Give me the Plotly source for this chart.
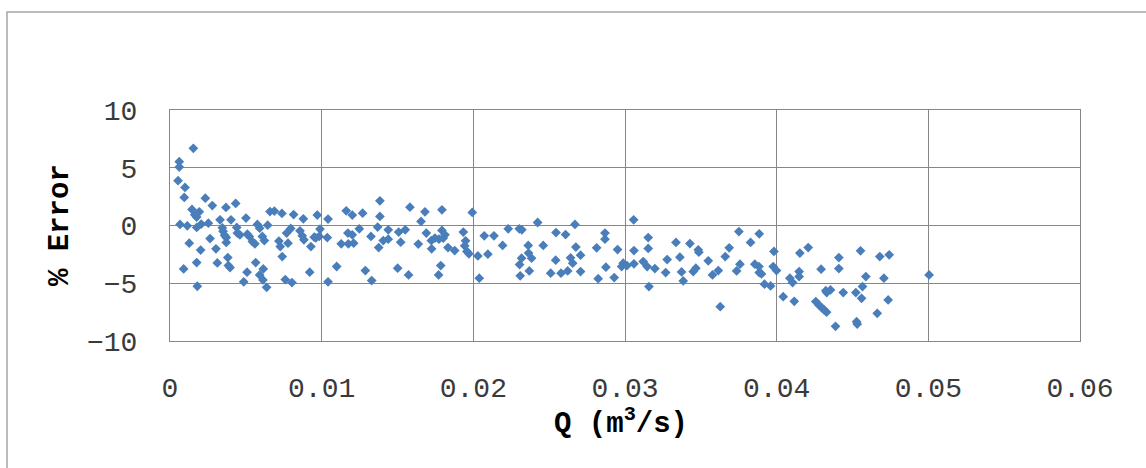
import plotly.graph_objects as go

# Flow rate Q (m^3/s) and percentage error
q = [0.00154, 0.00061, 0.00061, 0.00053, 0.00099, 0.00094, 0.00233, 0.00279, 0.00369, 0.00433,
     0.00145, 0.00193, 0.00163, 0.00176, 0.00066, 0.00114, 0.00176, 0.00206, 0.00253, 0.00330,
     0.00402, 0.00501, 0.00345, 0.00350, 0.00360, 0.00440, 0.00444, 0.00461, 0.00510, 0.00523,
     0.00576, 0.00591, 0.00644, 0.00543, 0.00560, 0.00609, 0.00622, 0.00659, 0.00688, 0.00738,
     0.00815, 0.00879, 0.00971, 0.01042, 0.00264, 0.00371, 0.00371, 0.00127, 0.00202, 0.00303,
     0.00381, 0.00312, 0.00385, 0.00396, 0.00176, 0.00090, 0.00180, 0.00565, 0.00508, 0.00486,
     0.00591, 0.00615, 0.00613, 0.00637, 0.00718, 0.00769, 0.00796, 0.00727, 0.00778, 0.00857,
     0.00872, 0.00883, 0.00951, 0.00929, 0.00989, 0.00962, 0.00984, 0.00740, 0.00921, 0.00760,
     0.00804, 0.01042, 0.01037,
     0.01099, 0.01162, 0.01202, 0.01270, 0.01384, 0.01384, 0.01582, 0.01681, 0.01655, 0.01793,
     0.01993, 0.01173, 0.01202, 0.01211, 0.01176, 0.01129, 0.01248, 0.01325, 0.01369, 0.01376,
     0.01406, 0.01439, 0.01439, 0.01508, 0.01551, 0.01521, 0.01637, 0.01690, 0.01723, 0.01747,
     0.01773, 0.01793, 0.01813, 0.01802, 0.01725, 0.01833, 0.01877, 0.01934, 0.01949, 0.01943,
     0.01958, 0.01971, 0.02072, 0.02030, 0.02096, 0.01288, 0.01330, 0.01501, 0.01573, 0.01785,
     0.01771, 0.02039,
     0.02136, 0.02193, 0.02230, 0.02303, 0.02320, 0.02424, 0.02362, 0.02318, 0.02305, 0.02364,
     0.02384, 0.02369, 0.02309, 0.02461, 0.02545, 0.02608, 0.02670, 0.02676, 0.02707, 0.02543,
     0.02641, 0.02655, 0.02510, 0.02578, 0.02622, 0.02707, 0.02813, 0.02868, 0.02868, 0.02874,
     0.02823, 0.02929, 0.02951, 0.03057, 0.03059, 0.02988, 0.02978, 0.03013, 0.03059, 0.03120,
     0.03146, 0.03153, 0.03153, 0.03158,
     0.03197, 0.03268, 0.03278, 0.03336, 0.03362, 0.03373, 0.03384, 0.03428, 0.03483, 0.03487,
     0.03450, 0.03467, 0.03549, 0.03577, 0.03615, 0.03628, 0.03661, 0.03687, 0.03751, 0.03736,
     0.03758, 0.03828, 0.03885, 0.03856, 0.03883, 0.03885, 0.03900, 0.03920, 0.03960, 0.03982,
     0.03977, 0.03999, 0.04043, 0.04087, 0.04105, 0.04116, 0.04148, 0.04148, 0.04153, 0.04208,
     0.04293, 0.04410, 0.04410, 0.04553, 0.04680, 0.04742, 0.04588, 0.04707, 0.05005, 0.04324,
     0.04355, 0.04330, 0.04439, 0.04522, 0.04566, 0.04560, 0.04735, 0.04258, 0.04278, 0.04296,
     0.04313, 0.04329, 0.04388, 0.04527, 0.04531, 0.04663]

err = [6.68, 5.52, 5.06, 3.88, 3.30, 2.43, 2.37, 1.73, 1.56, 1.91,
       1.39, 1.19, 0.93, 0.73, 0.09, -0.03, -0.17, 0.12, 0.20, 0.49,
       0.49, 0.64, -0.20, -0.50, -0.85, -0.17, -0.66, -0.81, -0.75, -0.95,
       0.09, -0.23, 0.03, -1.39, -1.59, -0.95, -1.30, 1.21, 1.25, 1.04,
       0.95, 0.58, 0.90, 0.56, -1.13, -1.04, -1.47, -1.53, -2.13, -2.02,
       -2.78, -3.24, -3.47, -3.64, -3.21, -3.76, -5.26, -3.21, -4.04, -4.88,
       -4.28, -3.76, -4.71, -5.35, -1.35, -0.66, -0.26, -1.82, -1.53, -0.46,
       -0.89, -1.24, -1.01, -1.82, -0.31, -1.07, -0.95, -2.69, -4.04, -4.68,
       -4.94, -4.88, -1.04,
       -3.55, 1.27, 0.90, 1.07, 2.14, 0.78, 1.59, 1.19, 0.35, 1.36,
       1.13, -0.66, -0.81, -1.53, -1.59, -1.59, -0.29, -0.95, -0.14, -1.91,
       -1.30, -1.18, -0.37, -0.57, -0.37, -1.44, -1.61, -0.66, -1.30, -1.09,
       -1.18, -0.43, -0.81, -1.09, -2.02, -1.91, -2.17, -0.57, -1.33, -1.76,
       -2.25, -2.45, -0.89, -2.63, -2.48, -3.90, -4.77, -3.70, -4.28, -3.47,
       -4.28, -4.56,
       -0.89, -1.73, -0.29, -0.29, -0.37, 0.26, -1.73, -2.83, -3.38, -2.39,
       -2.83, -3.93, -4.36, -1.73, -0.61, -0.78, 0.09, -1.87, -2.57, -3.00,
       -2.80, -3.26, -4.13, -4.13, -3.93, -3.99, -1.93, -0.66, -1.18, -3.61,
       -4.60, -4.51, -2.08, 0.49, -2.17, -3.26, -3.56, -3.47, -3.32, -3.12,
       -3.56, -1.04, -1.99, -5.29,
       -3.73, -4.07, -2.95, -1.47, -2.74, -4.02, -4.80, -1.56, -2.11, -2.31,
       -3.99, -3.70, -3.06, -4.28, -3.90, -7.03, -2.69, -1.93, -0.52, -3.93,
       -3.35, -1.47, -0.72, -3.35, -3.56, -4.07, -4.19, -5.08, -5.23, -2.25,
       -3.56, -3.90, -6.16, -4.56, -4.94, -6.56, -3.99, -4.42, -2.39, -1.91,
       -3.78, -2.78, -3.73, -2.19, -2.69, -2.54, -4.42, -4.56, -4.28, -5.64,
       -5.58, -5.81, -5.81, -5.81, -5.29, -6.30, -6.44, -6.59, -6.88, -7.11,
       -7.31, -7.51, -8.73, -8.33, -8.53, -7.60]

x_ticks = [0, 0.01, 0.02, 0.03, 0.04, 0.05, 0.06]
x_labels = ["0", "0.01", "0.02", "0.03", "0.04", "0.05", "0.06"]
y_ticks = [-10, -5, 0, 5, 10]

FONT = "Courier New, Liberation Mono, monospace"
GRID = "#878787"
TICK_COLOR = "#3a3a3a"

fig = go.Figure()
fig.add_trace(go.Scatter(
    x=q, y=err, mode="markers",
    marker=dict(symbol="diamond", size=7.5, color="#4A7EBB", line=dict(width=0)),
    showlegend=False, hoverinfo="x+y",
))

L, R, T, B = 170, 66, 110, 127
W, H = 1146, 468
pw, ph = W - L - R, H - T - B

def px(x):
    return (x - L) / pw

def py(y):
    return (H - B - y) / ph

fig.update_layout(
    width=W, height=H,
    margin=dict(l=L, r=R, t=T, b=B),
    paper_bgcolor="white", plot_bgcolor="white",
    font=dict(family=FONT, color=TICK_COLOR, size=28),
    xaxis=dict(range=[0, 0.06], tickvals=x_ticks, ticktext=x_labels,
               showgrid=True, gridcolor=GRID, gridwidth=1,
               showline=True, linecolor=GRID, linewidth=1, mirror=True,
               ticks="outside", ticklen=21, tickcolor="rgba(0,0,0,0)",
               zeroline=False, tickfont=dict(family=FONT, size=28, color=TICK_COLOR)),
    yaxis=dict(range=[-10, 10], tickvals=y_ticks,
               showgrid=True, gridcolor=GRID, gridwidth=1,
               showline=True, linecolor=GRID, linewidth=1, mirror=True,
               ticks="outside", ticklen=26, tickcolor="rgba(0,0,0,0)",
               zeroline=False, tickfont=dict(family=FONT, size=28, color=TICK_COLOR)),
    shapes=[dict(type="rect", xref="paper", yref="paper",
                 x0=px(7), x1=px(1160), y0=py(480), y1=py(12),
                 line=dict(color="#A6A6A6", width=1.5), layer="below")],
    annotations=[
        dict(text="<b>Q (m<sup>3</sup>/s)</b>", xref="paper", yref="paper",
             x=px(621), y=py(422), showarrow=False, xanchor="center", yanchor="middle",
             font=dict(family=FONT, size=29, color="#000000")),
        dict(text="<b>% Error</b>", xref="paper", yref="paper",
             x=px(60), y=py(225), showarrow=False, xanchor="center", yanchor="middle",
             textangle=-90, font=dict(family=FONT, size=29, color="#000000")),
    ],
)

fig.write_html("out.html")
